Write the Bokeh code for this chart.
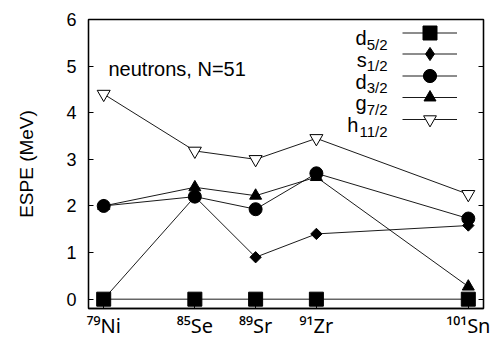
from bokeh.plotting import figure
from bokeh.models import Label, Legend, LegendItem, LinearAxis, FixedTicker, Range1d, ColumnDataSource
from bokeh.embed import file_html
from bokeh.resources import INLINE

# ---- data ----
nuclei_labels = ["⁷⁹Ni", "⁸⁵Se", "⁸⁹Sr", "⁹¹Zr", "¹⁰¹Sn"]
x_pos = [0, 1.5, 2.5, 3.5, 6]

d52 = [0.0, 0.0, 0.0, 0.0, 0.0]
s12 = [0.0, 2.2, 0.9, 1.4, 1.58]
d32 = [2.0, 2.2, 1.93, 2.7, 1.73]
g72 = [2.0, 2.4, 2.22, 2.62, 0.27]
h112 = [4.4, 3.18, 3.0, 3.45, 2.25]

orbital_letters = ["d", "s", "d", "g", "h"]
orbital_j = ["5/2", "1/2", "3/2", "7/2", "11/2"]
y_ticks = [0, 1, 2, 3, 4, 5, 6]

FONT = "Liberation Sans"
MAIN = 20
SMALL = 15
W = {c: 0.556 for c in "0123456789"}
W["/"] = 0.278

def tw(s, size):
    return sum(W.get(c, 0.556) for c in s) * size

p = figure(width=504, height=341, output_backend="svg", toolbar_location=None,
           x_range=Range1d(-0.25, 6.25), y_range=Range1d(-0.2, 6),
           min_border_left=88, min_border_right=21, min_border_top=19, min_border_bottom=31)
p.grid.visible = False
p.outline_line_color = "black"
p.outline_line_width = 1.3
p.background_fill_color = "white"
p.border_fill_color = "white"

# left axis
ya = p.yaxis[0]
ya.ticker = FixedTicker(ticks=y_ticks)
ya.minor_tick_line_color = None
ya.major_tick_in = 5
ya.major_tick_out = 0
ya.axis_line_width = 1.3
ya.major_tick_line_width = 1
ya.major_label_text_font = FONT
ya.major_label_text_font_size = "18px"
ya.major_label_text_color = "black"
ya.major_label_standoff = 12
ya.axis_label = "ESPE (MeV)"
ya.axis_label_text_font = FONT
ya.axis_label_text_font_size = "19px"
ya.axis_label_text_font_style = "normal"
ya.axis_label_text_color = "black"
ya.axis_label_standoff = 26

# bottom axis
xa = p.xaxis[0]
xa.ticker = FixedTicker(ticks=x_pos)
xa.major_label_overrides = {x: lab for x, lab in zip(x_pos, nuclei_labels)}
xa.minor_tick_line_color = None
xa.major_tick_in = 5
xa.major_tick_out = 0
xa.axis_line_width = 1.3
xa.major_label_text_font = "Noto Sans"
xa.major_label_text_font_size = "20px"
xa.major_label_text_color = "black"
xa.major_label_standoff = 3

# right axis
ra = LinearAxis(ticker=FixedTicker(ticks=y_ticks))
ra.minor_tick_line_color = None
ra.major_tick_in = 5
ra.major_tick_out = 0
ra.axis_line_width = 1.3
ra.major_label_text_font_size = "1px"
ra.major_label_text_alpha = 0
p.add_layout(ra, "right")

series = [d52, s12, d32, g72, h112]
markers = [
    dict(marker="square", size=14, fill_color="black"),
    dict(marker="square", size=8, angle=0.785398, fill_color="black"),
    dict(marker="circle", size=13, fill_color="black"),
    dict(marker="triangle", size=12, fill_color="black"),
    dict(marker="inverted_triangle", size=13, fill_color="white"),
]
legend_markers = [
    dict(marker="square", fill_color="black"),
    dict(marker="diamond", fill_color="black"),
    dict(marker="circle", fill_color="black"),
    dict(marker="triangle", fill_color="black"),
    dict(marker="inverted_triangle", fill_color="white"),
]
# legend marker size = 0.4 * glyph box height
legend_box_h = [35, 33, 33, 30, 32]

for i, (vals, mk, lmk) in enumerate(zip(series, markers, legend_markers)):
    src = ColumnDataSource(dict(x=x_pos, y=vals))
    p.line("x", "y", source=src, line_color="black", line_width=0.9)
    p.scatter("x", "y", source=src, line_color="black", line_width=1, **mk)
    dummy = ColumnDataSource(dict(x=[float("nan")], y=[float("nan")]))
    lr = p.line("x", "y", source=dummy, line_color="black", line_width=0.9)
    sr = p.scatter("x", "y", source=dummy, line_color="black", line_width=1, **lmk)
    gh = legend_box_h[i]
    row = 15 + 21.75 * i  # row centre, px below frame top
    lg = Legend(items=[LegendItem(label=" ", renderers=[lr, sr])],
                location=(314, 291 - row - gh / 2), orientation="vertical",
                glyph_width=55, glyph_height=gh, spacing=0, padding=0, margin=0,
                label_width=0, label_height=0, label_standoff=0,
                label_text_font_size="1px", background_fill_alpha=0,
                border_line_alpha=0)
    p.add_layout(lg, "center")

# legend texts (label left of sample), frame-relative screen coordinates
for i, (let, j) in enumerate(zip(orbital_letters, orbital_j)):
    row = 15 + 21.75 * i
    subw = tw(j, SMALL)
    p.add_layout(Label(x=299, y=291 - (row + 11.5), x_units="screen", y_units="screen",
                       text=j, text_font=FONT, text_font_size=f"{SMALL}px",
                       text_align="right", text_baseline="alphabetic", text_color="black"))
    p.add_layout(Label(x=299 - subw, y=291 - (row + 5.5), x_units="screen", y_units="screen",
                       text=let, text_font=FONT, text_font_size=f"{MAIN}px",
                       text_align="right", text_baseline="alphabetic", text_color="black"))

p.add_layout(Label(x=20, y=240, x_units="screen", y_units="screen",
                   text="neutrons, N=51", text_font=FONT, text_font_size=f"{MAIN}px",
                   text_align="left", text_baseline="alphabetic", text_color="black"))

open("out.html", "w").write(file_html(p, INLINE))
